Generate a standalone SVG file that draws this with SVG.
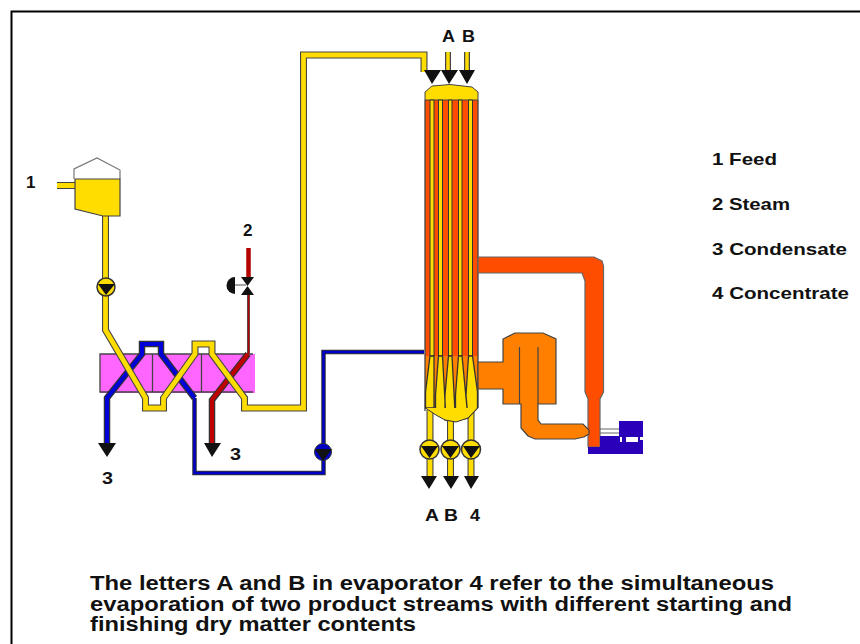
<svg xmlns="http://www.w3.org/2000/svg" width="860" height="644" viewBox="0 0 860 644">
<defs>
<style>
text{font-family:"Liberation Sans",Arial,sans-serif;font-weight:bold;fill:#111}
.l{font-size:17px}
.n{font-size:17px}
.c{font-size:19.500px}
</style>
</defs>
<rect width="860" height="644" fill="#fff"/>
<path d="M11.500 644V11.500H860" fill="none" stroke="#000" stroke-width="2"/>
<g id="exchanger">
<rect x="100" y="354" width="155" height="39" fill="#ff66ff"/>
<path d="M253 354H100V392H253M152.500 354V392M201.500 354V392" fill="none" stroke="#444" stroke-width="1.300"/>
</g>
<g id="connectors" fill="none">
<path d="M107 446V398L142 354V344H161V354L194.500 398" stroke="#333" stroke-width="6.500"/>
<path d="M107 446V398L142 354V344H161V354L194.500 398" stroke="#0000d8" stroke-width="4"/>
<path d="M194.500 398V473H323.500V352H424" stroke="#333" stroke-width="4.500"/>
<path d="M194.500 398V473H323.500V352H424" stroke="#0000c8" stroke-width="2.500"/>
<path d="M248.500 248V279" stroke="#b30000" stroke-width="4.500"/>
<path d="M248.500 294V354" stroke="#555" stroke-width="3"/>
<path d="M248.500 294V354" stroke="#b30000" stroke-width="1.500"/>
<path d="M248 354L212 400V446" stroke="#333" stroke-width="6.500"/>
<path d="M248 354L212 400V446" stroke="#c00000" stroke-width="4"/>
<path d="M105.500 216V330L145.500 398V408H163.500V398L195 354V344H212V354L244.500 398V408H303.500V55H424V72M57 185.500H76" stroke="#444" stroke-width="7"/>
<path d="M105.500 216V330L145.500 398V408H163.500V398L195 354V344H212V354L244.500 398V408H303.500V55H424V72M57 185.500H76" stroke="#ffdd00" stroke-width="4.800"/>
<path d="M448 52V74M467 52V74" stroke="#444" stroke-width="6"/>
<path d="M448 52V74M467 52V74" stroke="#ffdd00" stroke-width="3.500"/>
<path d="M430 410V476M450.500 418V476M471 410V476" stroke="#444" stroke-width="7"/>
<path d="M430 410V476M450.500 418V476M471 410V476" stroke="#ffdd00" stroke-width="4.800"/>
<g fill="#111">
<path d="M98 443H116L107 457ZM204 443H221L212 457Z"/>
<path d="M424 70H441L432 84ZM441 70H458L449 84ZM459 70H475L467 84Z"/>
<path d="M421 476H437L429 489ZM443 476H459L451 489ZM464 476H479L471 489Z"/>
</g>
</g>
<g id="tank">
<path d="M74 179V169L97 158L120 170V179" fill="#fff" stroke="#777" stroke-width="1.200"/>
<path d="M75 179H120V216H103L75 209Z" fill="#ffdd00" stroke="#444" stroke-width="1.200"/>
</g>
<g id="valve">
<path d="M235 285H246" stroke="#888" stroke-width="1.500"/>
<path d="M235 277a8.500 8.500 0 0 0 0 17Z" fill="#111"/>
<path d="M241 277H254L241 295H254Z" fill="#111"/>
</g>
<g id="pump-feed"><circle cx="106" cy="287" r="9" fill="#ffdd00" stroke="#333" stroke-width="1.500"/><path d="M98 284H115L106 295Z" fill="#111"/></g>
<g id="pump-blue"><circle cx="323" cy="452" r="8.500" fill="#0000c8" stroke="#333"/><path d="M315 449H332L323 461Z" fill="#111"/></g>
<g id="pumps-out">
<circle cx="429.500" cy="449.500" r="9.500" fill="#ffdd00" stroke="#333" stroke-width="1.500"/><circle cx="450.500" cy="449.500" r="9.500" fill="#ffdd00" stroke="#333" stroke-width="1.500"/><circle cx="471" cy="449.500" r="9.500" fill="#ffdd00" stroke="#333" stroke-width="1.500"/>
<path d="M421 446H438L429.500 458ZM442 446H459L450.500 458ZM463 446H480L471 458Z" fill="#111"/>
</g>
<g id="evaporator">
<rect x="425" y="98" height="258" width="53" fill="#ff4d00"/>
<path d="M425 356H478V408H425Z" fill="#ff8000"/>
<path d="M425 100V411M478 100V408" stroke="#444" stroke-width="1.300" fill="none"/>
<path d="M425 100V92L432 86L450 84.500L472 87L478 92V100Z" fill="#ffdd00" stroke="#444"/>
<path d="M430 100H434V356H430ZM438.500 100H442.500V356H438.500ZM448.500 100H452V356H448.500ZM458.500 100H462V356H458.500ZM468.500 100H472.500V356H468.500Z" fill="#ffdd00" stroke="#333" stroke-width="1"/>
<path d="M430 356H434V408H425.500V392ZM438.500 356H442.500L445.500 410H435.500V395ZM448.500 356H452L455.500 421L445 420V395ZM458.500 356H462L468 418L455.500 421V395ZM468.500 356H472.500L477.500 392V408L468 418L466 395Z" fill="#ffdd00" stroke="#333" stroke-width="1.300"/>
<path d="M425.500 408L436 415L445 420L456 422L468 418L477.500 408" fill="#ffdd00" stroke="#333" stroke-width="1"/>
<path d="M434 408V412M445.500 410V420M455.500 395V421M466 395V418" stroke="#333" stroke-width="1" fill="none" opacity="0"/>
</g>
<g id="separator">
<path d="M478 257H594L602 261L603.500 266V392L600 399V447H588V399L585 392V281L582 273H478Z" fill="#ff4d00" stroke="#666" stroke-width="1.200"/>
</g>
<g id="vapor">
<path d="M478 362H503V339L515 333H543L556 339V404H538V420L541 424H583L589 430V434L584 437L575 439H535L528 436L521 428V404H503V389H478Z" fill="#ff8000" stroke="#444" stroke-width="1.200"/>
<path d="M519.500 347V404M538 347V404" stroke="#444" stroke-width="1.200" fill="none"/>
</g>
<g id="compressor">
<path d="M600 436H619V421H643V454H588V447H600Z" fill="#2a00b8"/>
<path d="M600 429H619M600 433H619" stroke="#666" stroke-width="1.200" fill="none"/>
<rect x="626" y="437" width="12" height="5" fill="#fff"/><rect x="620" y="437" width="2" height="5" fill="#fff"/><rect x="640" y="437" width="3" height="3" fill="#fff"/>
</g>
<g id="labels">
<text class="l" x="26" y="188">1</text>
<text class="l" x="243" y="236">2</text>
<text class="l" x="102" y="484" textLength="11" lengthAdjust="spacingAndGlyphs">3</text>
<text class="l" x="230" y="460" textLength="11" lengthAdjust="spacingAndGlyphs">3</text>
<text class="l" x="442" y="42" textLength="13" lengthAdjust="spacingAndGlyphs">A</text>
<text class="l" x="462" y="42" textLength="13" lengthAdjust="spacingAndGlyphs">B</text>
<text class="l" x="425" y="521" textLength="14" lengthAdjust="spacingAndGlyphs">A</text>
<text class="l" x="444" y="521" textLength="14" lengthAdjust="spacingAndGlyphs">B</text>
<text class="l" x="470" y="521" textLength="10" lengthAdjust="spacingAndGlyphs">4</text>
<text class="n" x="712" y="165" textLength="65" lengthAdjust="spacingAndGlyphs">1 Feed</text>
<text class="n" x="712" y="210" textLength="78" lengthAdjust="spacingAndGlyphs">2 Steam</text>
<text class="n" x="712" y="255" textLength="135" lengthAdjust="spacingAndGlyphs">3 Condensate</text>
<text class="n" x="712" y="299" textLength="137" lengthAdjust="spacingAndGlyphs">4 Concentrate</text>
<text class="c" x="90" y="590" textLength="684" lengthAdjust="spacingAndGlyphs">The letters A and B in evaporator 4 refer to the simultaneous</text>
<text class="c" x="90" y="611" textLength="702" lengthAdjust="spacingAndGlyphs">evaporation of two product streams with different starting and</text>
<text class="c" x="90" y="631" textLength="326" lengthAdjust="spacingAndGlyphs">finishing dry matter contents</text>
</g>
</svg>
